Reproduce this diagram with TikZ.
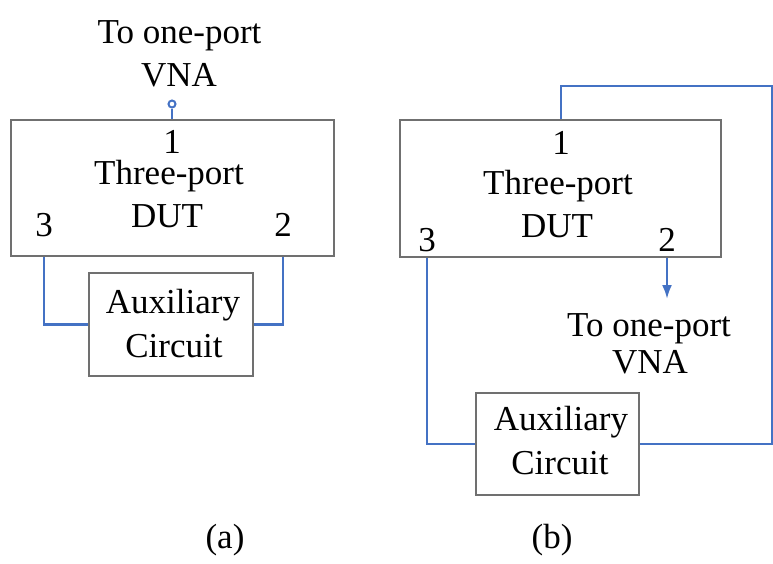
\documentclass[tikz,border=0pt]{standalone}
\usepackage{fontspec}
\setmainfont{Liberation Serif}
\usetikzlibrary{arrows.meta}
\definecolor{boxgray}{RGB}{112,112,112}
\definecolor{wireblue}{RGB}{68,114,196}
\begin{document}
\begin{tikzpicture}[x=1pt,y=-1pt,
  box/.style={draw=boxgray,line width=1.4pt,rectangle,inner sep=0pt},
  wire/.style={draw=wireblue,line width=2.4pt},
  txt/.style={anchor=base,inner sep=0pt,font=\fontsize{35}{42}\selectfont}]
\useasboundingbox (0,0) rectangle (773,563);
% ---------- (a) ----------
\node[box,minimum width=323pt,minimum height=136pt] (DUTa) at (172.5,188) {};
\node[box,minimum width=164pt,minimum height=103pt] (AUXa) at (171,324.5) {};
\node[txt] (p1a) at (172,153) {1};
\node[txt] (tpa) at (169,184) {Three-port};
\node[txt] (duta) at (167,227) {DUT};
\node[txt] (p3a) at (44,236) {3};
\node[txt] (p2a) at (283,236) {2};
\node[txt] (auxa1) at (173,313) {Auxiliary};
\node[txt] (auxa2) at (174,357) {Circuit};
\node[txt] (vnaa1) at (179.5,43) {To one-port};
\node[txt] (vnaa2) at (179,86) {VNA};
\node[circle,draw=wireblue,line width=2pt,minimum size=7pt,inner sep=0pt] (term) at (172,104) {};
\draw[wire] (term) -- (term |- DUTa.north);
\draw[wire] (p3a |- DUTa.south) |- (AUXa.west);
\draw[wire] (p2a |- DUTa.south) |- (AUXa.east);
\node[txt] (laba) at (225,548) {(a)};
% ---------- (b) ----------
\node[box,minimum width=321pt,minimum height=137pt] (DUTb) at (560.5,188.5) {};
\node[box,minimum width=163pt,minimum height=102pt] (AUXb) at (557.5,444) {};
\node[txt] (p1b) at (561,154) {1};
\node[txt] (tpb) at (558,194) {Three-port};
\node[txt] (dutb) at (557,237) {DUT};
\node[txt] (p3b) at (427,251) {3};
\node[txt] (p2b) at (667,251) {2};
\node[txt] (auxb1) at (561,430) {Auxiliary};
\node[txt] (auxb2) at (560,474) {Circuit};
\node[txt] (vnab1) at (649,336) {To one-port};
\node[txt] (vnab2) at (650,373) {VNA};
\coordinate (corner) at (772,86);
\coordinate (arrowend) at (667,299);
\draw[wire] (p1b |- DUTb.north) |- (corner) |- (AUXb.east);
\draw[wire] (p3b |- DUTb.south) |- (AUXb.west);
\draw[wire,-{Latex[length=14pt,width=10pt]}] (p2b |- DUTb.south) -- (arrowend);
\node[txt] (labb) at (552,548) {(b)};
\end{tikzpicture}
\end{document}
